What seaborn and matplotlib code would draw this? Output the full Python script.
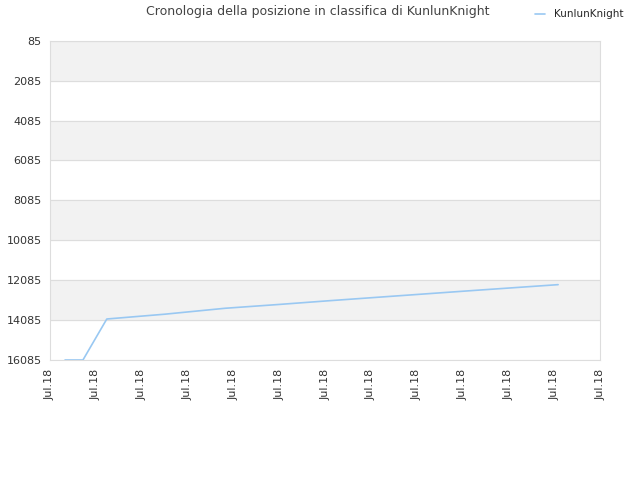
import seaborn as sns
import pandas as pd
import numpy as np
import matplotlib.pyplot as plt

# position over time (x in tick units, all ticks read "Jul.18")
pos_x = [0.33, 0.72, 1.24, 2.5, 3.82, 5.0, 6.11, 7.64, 9.3, 11.08]
rank = [16085, 16085, 14030, 13790, 13492, 13300, 13110, 12860, 12590, 12308]
yticks = [85, 2085, 4085, 6085, 8085, 10085, 12085, 14085, 16085]
xtick_labels = ['Jul.18'] * 13
player = 'KunlunKnight'

df = pd.DataFrame({'x': pos_x, 'rank': rank, 'player': player})

sns.set_style('white')
plt.rcParams['font.family'] = ['DejaVu Sans']

fig = plt.figure(figsize=(6.4, 4.8), dpi=100)
ax = fig.add_axes([0.078, 0.25, 0.86, 0.665])

# alternating bands
for i in range(0, len(yticks) - 1, 2):
    ax.axhspan(yticks[i], yticks[i + 1], color='#f2f2f2', zorder=0)
for y in yticks:
    ax.axhline(y, color='#dddddd', lw=0.8, zorder=1)

sns.lineplot(data=df, x='x', y='rank', hue='player', palette=['#99c8f2'],
             lw=1.2, ax=ax, legend=False, zorder=3)

ax.set_ylim(16085, 85)
ax.set_yticks(yticks)
ax.set_yticklabels([str(v) for v in yticks], fontsize=8, color='#333333')
ax.set_xlim(0, 12)
ax.set_xticks(range(13))
ax.set_xticklabels(xtick_labels, rotation=90, fontsize=8, color='#333333')
ax.tick_params(length=0, pad=6)
ax.set_xlabel('')
ax.set_ylabel('')
for s in ax.spines.values():
    s.set_color('#dddddd')

fig.text(0.497, 0.975, 'Cronologia della posizione in classifica di KunlunKnight',
         ha='center', va='center', fontsize=9, color='#444444')
fig.legend(handles=[plt.Line2D([], [], color='#99c8f2', lw=1.2)], labels=[player],
           loc='center', bbox_to_anchor=(0.905, 0.97), frameon=False, fontsize=7.5,
           handlelength=1.0)

fig.savefig('out.png', dpi=100)
